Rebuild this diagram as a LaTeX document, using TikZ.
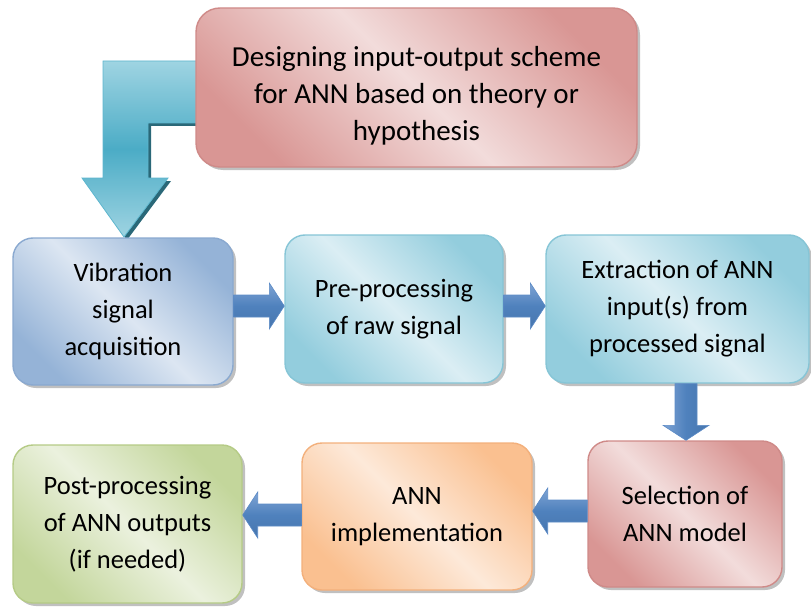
\documentclass[tikz,border=0pt]{standalone}
\usepackage{fontspec}
\setmainfont{Carlito}
\usetikzlibrary{calc,shadows}
\definecolor{redD}{HTML}{D99694}
\definecolor{redL}{HTML}{F2DCDB}
\definecolor{redB}{HTML}{CF8A88}
\definecolor{blueD}{HTML}{95B3D7}
\definecolor{blueL}{HTML}{DCE6F2}
\definecolor{blueB}{HTML}{8AA9D0}
\definecolor{aquaD}{HTML}{93CDDD}
\definecolor{aquaL}{HTML}{DBEEF4}
\definecolor{aquaB}{HTML}{86C5D6}
\definecolor{greenD}{HTML}{C3D69B}
\definecolor{greenL}{HTML}{EBF1DE}
\definecolor{greenB}{HTML}{B5CB86}
\definecolor{orangeD}{HTML}{FAC090}
\definecolor{orangeL}{HTML}{FDE9D9}
\definecolor{orangeB}{HTML}{F3B07C}
\definecolor{arrLight}{HTML}{7FA4D4}
\definecolor{arrMid}{HTML}{4F81BD}
\definecolor{arrDark}{HTML}{4776AE}
\definecolor{arrEdge}{HTML}{5C8BC6}
\definecolor{tealLight}{HTML}{9FD4E2}
\definecolor{tealMid}{HTML}{4BACC6}
\definecolor{tealEdge}{HTML}{5DB6CE}
\definecolor{tealShadow}{HTML}{2A6878}
\newcommand\bigfont{\fontsize{29}{37}\selectfont}
\newcommand\midfont{\fontsize{26.5}{37}\selectfont}
\tikzset{
  box/.style={rounded corners=20pt, inner sep=0pt, align=center, line width=1.4pt,
    text=black, font=\midfont,
    drop shadow={shadow xshift=3pt, shadow yshift=-3pt, opacity=0.45, fill=black!55}},
  shadedbox/.style n args={3}{box, draw=#3, left color=#1, right color=#1,
    middle color=#2, shading angle=-45},
  redbox/.style={shadedbox={redD}{redL}{redB}},
  bluebox/.style={shadedbox={blueD}{blueL}{blueB}},
  aquabox/.style={shadedbox={aquaD}{aquaL}{aquaB}},
  greenbox/.style={shadedbox={greenD}{greenL}{greenB}},
  orangebox/.style={shadedbox={orangeD}{orangeL}{orangeB}},
  fatarrow/.style={draw=arrEdge, line width=0.6pt,
    top color=arrLight, bottom color=arrDark, middle color=arrMid,
    to path={
      ($(\tikztostart)!11pt!90:(\tikztotarget)$)
      -- ($(\tikztotarget)!15pt!(\tikztostart)!11pt!90:(\tikztotarget)$)
      -- ($(\tikztotarget)!15pt!(\tikztostart)!23pt!90:(\tikztotarget)$)
      -- (\tikztotarget)
      -- ($(\tikztotarget)!15pt!(\tikztostart)!23pt!-90:(\tikztotarget)$)
      -- ($(\tikztotarget)!15pt!(\tikztostart)!11pt!-90:(\tikztotarget)$)
      -- ($(\tikztostart)!11pt!-90:(\tikztotarget)$)
      -- cycle}},
  vfatarrow/.style={fatarrow, shading angle=90}
}
\begin{document}
\begin{tikzpicture}[x=1pt,y=-1pt]
\useasboundingbox (0,0) rectangle (811,607);

\path (416.5,87.5) coordinate (topc);
\path (123,311.5) coordinate (vibc);

% bent arrow: shadow + body
\fill[tealShadow, transform canvas={xshift=3pt,yshift=-3pt}]
  ($(topc)+(-206.5,-26.5)$) -- ($(vibc |- topc)+(-20,-26.5)$)
  -- ($(vibc)+(-20,-133.5)$) -- ($(vibc)+(-41,-133.5)$)
  -- ($(vibc)+(1,-74.5)$)
  -- ($(vibc)+(45,-133.5)$) -- ($(vibc)+(25,-133.5)$)
  -- ($(vibc |- topc)+(25,35.5)$) -- ($(topc)+(-206.5,35.5)$) -- cycle;
\shade[draw=tealEdge, line width=0.8pt, top color=tealLight, bottom color=tealLight, middle color=tealMid]
  ($(topc)+(-206.5,-26.5)$) -- ($(vibc |- topc)+(-20,-26.5)$)
  -- ($(vibc)+(-20,-133.5)$) -- ($(vibc)+(-41,-133.5)$)
  -- ($(vibc)+(1,-74.5)$)
  -- ($(vibc)+(45,-133.5)$) -- ($(vibc)+(25,-133.5)$)
  -- ($(vibc |- topc)+(25,35.5)$) -- ($(topc)+(-206.5,35.5)$) -- cycle;

\node[redbox, rounded corners=24pt, minimum width=441pt, minimum height=159pt, font=\bigfont]
  (top) at (topc) {\rule{0pt}{36pt}Designing input-output scheme\\for ANN based on theory or\\hypothesis};
\node[bluebox, minimum width=220pt, minimum height=147pt]
  (vib) at (vibc) {Vibration\\signal\\acquisition};
\node[aquabox, minimum width=218pt, minimum height=148pt]
  (pre) at (394,309) {Pre-processing\\of raw signal};
\node[aquabox, minimum width=263pt, minimum height=148pt]
  (ext) at (677.5,309) {Extraction of ANN\\input(s) from\\processed signal};
\node[greenbox, minimum width=229pt, minimum height=158pt]
  (post) at (127.5,524) {Post-processing\\of ANN outputs\\(if needed)};
\node[orangebox, minimum width=230pt, minimum height=147pt]
  (impl) at (417,516.5) {ANN\\implementation};
\node[redbox, minimum width=194pt, minimum height=146pt]
  (sel) at (685,514) {Selection of\\ANN model};

% connectors
\shade[fatarrow] (vib.east |- 0,306) to (pre.west |- 0,306);
\shade[fatarrow] (pre.east |- 0,306) to (ext.west |- 0,306);
\shade[vfatarrow] (ext.south -| 686,0) to (sel.north -| 686,0);
\shade[fatarrow] (sel.west |- 0,511) to (impl.east |- 0,511);
\shade[fatarrow] (impl.west |- 0,515) to (post.east |- 0,515);
\end{tikzpicture}
\end{document}
